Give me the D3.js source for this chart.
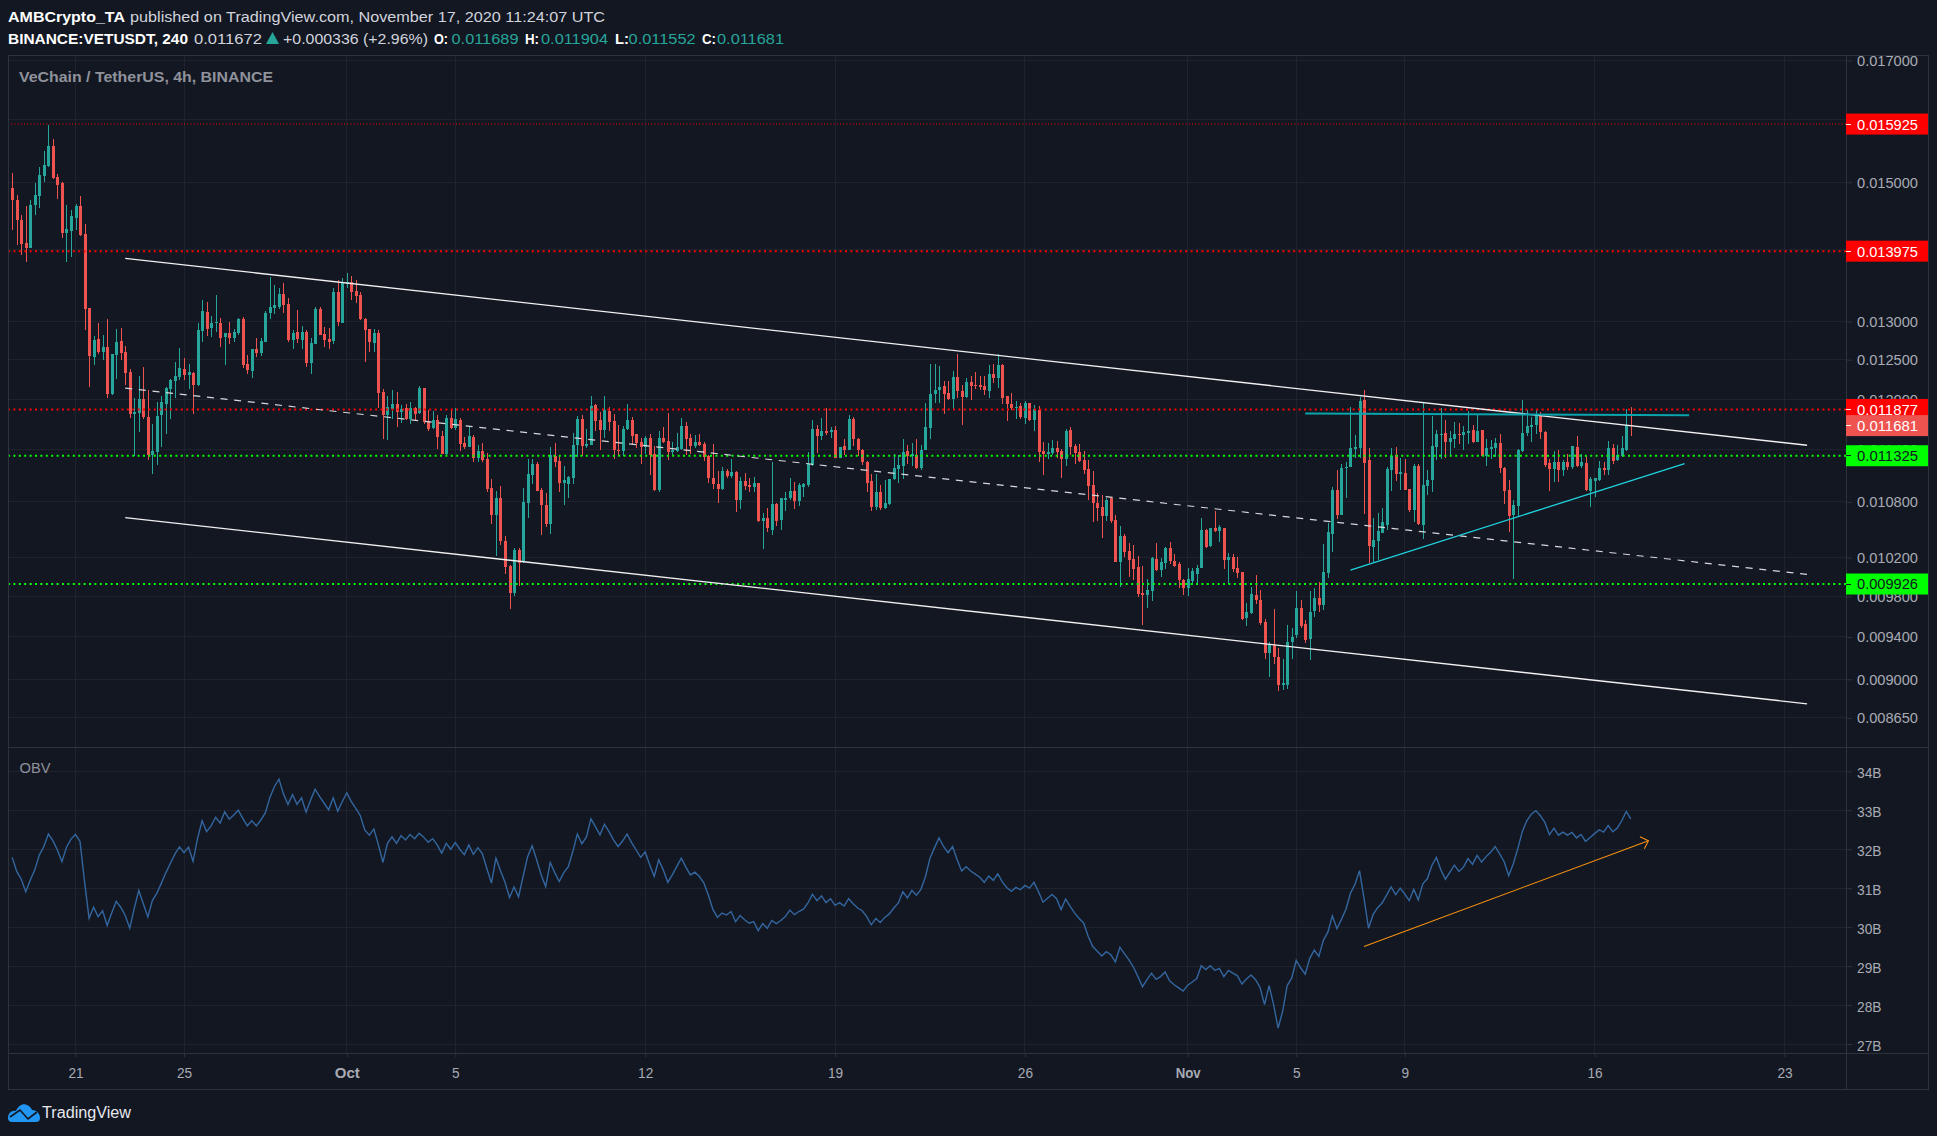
<!DOCTYPE html>
<html>
<head>
<meta charset="utf-8">
<title>VETUSDT</title>
<script src="https://cdnjs.cloudflare.com/ajax/libs/d3/7.8.5/d3.min.js"></script>
<style>
html, body { margin: 0; padding: 0; background: #131722; }
svg { display: block; }
text { font-family: "Liberation Sans", sans-serif; }
</style>
</head>
<body>
<div id="chart"></div>
<script>
// prices below are in millionths of a USDT, one bar every 4 hours from 18 Sep 16:00 UTC
const opens = [
14910,14735,14435,14090,14015,14660,14795,15100,15258,15573,
15084,14990,14240,14270,14465,14645,14225,13180,12534,12767,
12600,12664,12071,12560,12741,12600,12337,11827,11839,12008,
11790,11335,11370,11810,11948,12133,12233,12283,12383,12308,
12333,12183,12871,13125,12910,12974,12987,12793,12845,12780,
12845,13028,12446,12358,12638,12586,12728,13111,13180,13194,
13374,13236,12754,12858,12754,12858,12458,12703,13167,12832,
12767,12741,13402,12987,13513,13541,13416,13360,13028,12897,
12715,12845,12096,11810,11887,11947,11851,11899,11766,11899,
11839,12146,11742,11657,11754,11561,11344,11778,11657,11754,
11477,11428,11549,11300,11381,11290,10951,10658,10849,10375,
10112,9837,10280,10152,10792,11099,11234,10928,10771,10560,
11325,11268,11008,10996,11065,11452,11764,11440,11452,11932,
11752,11632,11860,11740,11392,11381,11644,11752,11584,11488,
11428,11536,11347,10928,11536,11500,11370,11381,11404,11680,
11536,11440,11488,11464,11325,11065,10996,10940,11144,11087,
11132,10826,11030,10985,10962,11008,10585,10618,10498,10782,
10596,10826,10838,10917,10815,10962,10985,11223,11644,11560,
11620,11608,11632,11302,11440,11392,11764,11524,11392,11257,
11030,10747,10905,10736,10782,11053,11166,11211,11381,11325,
11336,11178,11392,11656,12067,12117,12167,12079,12004,12279,
12104,12029,12217,12179,12179,12167,12104,12317,12267,12429,
12042,11944,11896,11920,11776,11956,11752,11872,11381,11347,
11358,11416,11381,11291,11632,11440,11370,11279,11166,10985,
10793,10749,10640,10838,10596,10152,10432,10269,10183,10101,
9834,9813,9855,10183,10070,10142,10302,10163,10132,9968,
9885,9958,10029,10091,10488,10324,10509,10477,10509,10173,
10204,10091,10050,9590,9638,9813,9764,9550,9242,9327,
9213,8948,8948,9356,9420,9686,9530,9384,9657,9784,
9716,10040,10455,10928,10651,11178,11189,11404,11416,11992,
11279,10313,10378,10465,10552,11155,11336,11110,11121,10940,
10713,11211,10552,10973,11042,11428,11572,11596,11488,11524,
11584,11572,11596,11632,11488,11632,11325,11404,11416,11476,
11178,10928,10651,10760,11381,11596,11668,11692,11824,11608,
11245,11166,11257,11155,11257,11200,11428,11211,11245,10917,
11030,11042,11178,11155,11416,11280,11325,11392,11689];
const highs = [
15142,14810,14505,14645,14735,14985,15242,15495,15905,15684,
15131,15005,14660,14585,14675,14795,14375,13180,12806,12974,
12819,13028,12573,12897,12910,12677,12375,12021,12296,12408,
12121,11706,11972,12046,12158,12258,12471,12650,12521,12446,
12346,12987,13291,13264,13069,13360,13042,12845,13000,12897,
13042,13055,12560,12638,12780,12780,13139,13610,13499,13458,
13527,13319,12884,13153,12935,12884,12780,13194,13194,12922,
12910,13458,13568,13596,13665,13624,13568,13402,13042,12897,
12897,12884,12133,12046,12121,12096,11935,11947,11972,11911,
12171,12146,11875,11863,11815,11621,11815,11887,11899,11778,
11549,11682,11573,11453,11477,11359,11053,10917,10973,10430,
10122,10302,10302,10951,11291,11291,11257,10951,10894,11428,
11476,11325,11211,11087,11596,11792,11804,11644,12042,11944,
11848,12042,11908,11824,11692,11680,11944,11788,11584,11536,
11560,11584,11440,11620,11668,11836,11488,11596,11776,11728,
11584,11572,11584,11488,11336,11464,11144,11189,11166,11291,
11144,11076,11121,11065,11076,11008,10680,10738,11257,10792,
10838,10905,11065,11019,11008,11008,11370,11752,11692,11776,
11896,11668,11680,11428,11524,11804,11788,11536,11404,11268,
11110,11110,10985,11042,11053,11347,11336,11524,11452,11476,
11524,11452,11956,12442,12442,12417,12229,12229,12354,12570,
12179,12267,12292,12342,12292,12292,12429,12442,12570,12442,
12042,12079,11980,11956,11980,11956,11932,11920,11488,11476,
11512,11500,11404,11644,11668,11464,11464,11381,11279,11144,
10894,10872,10838,10860,10651,10531,10455,10357,10335,10215,
10111,9978,10204,10357,10193,10313,10367,10236,10152,9978,
10091,10091,10122,10619,10499,10509,10705,10542,10509,10247,
10236,10204,10050,9735,9896,10019,9865,9579,9356,9677,
9299,9194,9516,9491,9855,9764,9569,9855,9885,9947,
10345,10564,10962,11155,11234,11257,11908,11572,12029,12117,
11416,10618,10673,10738,11189,11416,11428,11302,11291,10940,
11234,11234,11968,11155,11800,11632,11896,11752,11620,11728,
11716,11680,11860,11692,11824,11632,11524,11512,11536,11584,
11189,11042,10826,11404,11992,11872,11788,11872,11848,11620,
11291,11381,11392,11280,11347,11440,11560,11347,11325,11076,
11065,11268,11257,11500,11464,11452,11560,11884,11904];
const lows = [
14275,14060,13925,13822,14015,14510,14605,15010,15242,15052,
14750,14165,13818,13887,14285,14195,12884,12158,12433,12573,
12496,12021,12058,12254,12496,12183,11778,11325,11609,11766,
11277,11109,11212,11428,11585,11766,12021,12246,12246,12133,
11827,12171,12728,12806,12793,12858,12664,12433,12703,12728,
12824,12396,12320,12271,12534,12547,12728,13028,13097,13167,
13111,12728,12638,12715,12638,12408,12321,12703,12819,12664,
12638,12703,12935,12974,13458,13291,13250,13014,12471,12600,
12600,11900,11525,11513,11766,11670,11718,11754,11706,11754,
11827,11706,11621,11645,11404,11344,11332,11645,11633,11381,
11404,11428,11247,11247,11258,10916,10560,10215,10335,10031,
9675,9807,9905,10142,10623,10996,10917,10440,10527,10450,
11200,10905,10771,10838,10996,11310,11325,11416,11452,11620,
11392,11536,11620,11291,11325,11325,11632,11464,11416,11234,
11347,11099,10917,10905,11476,11280,11336,11370,11392,11336,
11347,11416,11440,11268,11008,10940,10792,10928,11065,11065,
10691,10727,10928,10905,10905,10574,10291,10476,10440,10534,
10498,10705,10826,10727,10760,10860,10962,11211,11358,11512,
11572,11536,11302,11302,11336,11392,11440,11325,11223,10905,
10705,10716,10716,10727,10771,11042,11008,11053,11234,11211,
11166,11155,11392,11524,11952,11956,11824,11992,11884,12017,
11692,12017,11992,12129,12117,12054,12017,12204,12142,11944,
11740,11872,11764,11764,11704,11740,11620,11257,11098,11291,
11336,11302,11064,11211,11336,11234,11257,11110,10826,10574,
10585,10411,10585,10564,10152,9897,10204,10002,9971,9793,
9515,9686,9755,10060,10002,10081,10132,10101,9885,9813,
9803,9916,9916,10091,10302,10313,10466,10367,10081,9926,
10050,9988,9570,9510,9628,9725,9520,9194,9022,9146,
8893,8902,8911,9194,9394,9491,9346,9184,9598,9647,
9667,9988,10258,10607,10651,10838,11189,11302,11302,10669,
10139,10149,10173,10465,10498,10917,11030,10928,10928,10691,
10574,10552,10400,10872,10905,11280,11291,11302,11325,11416,
11464,11392,11464,11476,11488,11325,11211,11291,11314,11121,
10782,10476,9980,10640,11370,11560,11488,11584,11524,11200,
10917,11019,11019,11087,11155,11166,11200,11178,10917,10747,
10860,11030,11099,11099,11234,11268,11314,11381,11552];
const closes = [
14725,14435,14075,14015,14660,14810,15115,15273,15573,15063,
14960,14240,14300,14495,14645,14210,13167,12547,12754,12600,
12664,12071,12573,12728,12586,12333,11827,11851,12008,11790,
11335,11381,11802,11972,12146,12246,12296,12396,12308,12346,
12183,12884,13139,12897,12974,13000,12780,12845,12780,12858,
13028,12433,12371,12638,12586,12741,13111,13194,13222,13374,
13222,12754,12845,12767,12858,12458,12715,13167,12819,12754,
12728,13402,13000,13541,13541,13402,13347,13028,12884,12728,
12845,12083,11810,11911,11947,11851,11887,11766,11899,11827,
12146,11730,11645,11754,11549,11344,11778,11657,11766,11465,
11428,11561,11300,11381,11277,10939,10658,10849,10375,10102,
9837,10280,10142,10804,11110,11234,10917,10771,10560,11336,
11257,11008,11042,11076,11452,11764,11440,11464,11920,11740,
11632,11872,11728,11392,11381,11644,11752,11560,11476,11428,
11536,11336,10928,11536,11488,11370,11392,11428,11680,11524,
11440,11488,11452,11314,11065,10996,10940,11144,11087,11132,
10826,11030,10973,10962,11008,10585,10627,10509,10782,10585,
10838,10849,10917,10815,10985,10996,11234,11644,11560,11620,
11596,11632,11302,11428,11392,11764,11524,11392,11257,11008,
10747,10905,10736,10792,11053,11178,11223,11370,11325,11347,
11178,11392,11668,12067,12117,12154,12067,12004,12279,12104,
12029,12217,12167,12167,12154,12117,12317,12267,12429,12017,
11944,11896,11908,11788,11956,11752,11884,11370,11347,11370,
11416,11370,11291,11620,11428,11358,11268,11155,10973,10793,
10738,10640,10826,10585,10152,10432,10258,10173,10081,9824,
9813,9865,10193,10070,10152,10302,10163,10111,9968,9885,
9978,10060,10091,10488,10313,10509,10477,10520,10173,10204,
10081,10040,9580,9648,9824,9764,9540,9251,9337,9213,
8948,8966,9356,9403,9686,9511,9375,9648,9784,9716,
10050,10466,10928,10651,11178,11200,11416,11428,11980,11245,
10323,10389,10487,10574,11166,11325,11110,11132,10928,10713,
11211,10563,10985,11042,11440,11584,11584,11488,11536,11584,
11572,11608,11620,11488,11620,11325,11416,11428,11476,11178,
10917,10640,10771,11392,11596,11680,11692,11824,11608,11223,
11166,11257,11155,11257,11200,11440,11211,11257,10928,11053,
11065,11178,11155,11416,11268,11336,11416,11692,11681];
// on balance volume in billions, same bars
const obv = [
31.79,31.43,31.23,30.91,31.21,31.47,31.85,32.07,32.39,32.22,
31.98,31.68,32.05,32.26,32.38,32.20,31.17,30.23,30.51,30.27,
30.42,30.04,30.36,30.66,30.51,30.30,29.97,30.49,30.94,30.60,
30.26,30.68,30.87,31.13,31.40,31.64,31.88,32.06,31.91,32.05,
31.69,32.28,32.73,32.45,32.60,32.82,32.67,32.96,32.77,32.88,
33.00,32.79,32.60,32.73,32.60,32.75,32.94,33.33,33.61,33.80,
33.42,33.15,33.40,33.15,33.32,32.95,33.26,33.54,33.35,33.18,
33.01,33.32,32.98,33.22,33.45,33.22,33.05,32.86,32.49,32.36,
32.52,32.11,31.66,32.15,32.32,32.15,32.35,32.24,32.38,32.27,
32.41,32.31,32.18,32.27,32.11,31.90,32.15,32.00,32.17,32.00,
31.86,32.11,31.87,32.04,31.88,31.50,31.13,31.77,31.45,31.15,
30.76,31.03,30.78,31.30,31.81,32.09,31.73,31.34,31.04,31.66,
31.40,31.17,31.40,31.55,31.94,32.39,32.14,32.31,32.78,32.58,
32.37,32.64,32.45,32.24,32.07,32.21,32.39,32.17,31.98,31.79,
31.93,31.60,31.30,31.73,31.47,31.15,31.34,31.56,31.77,31.54,
31.34,31.41,31.30,31.13,30.81,30.45,30.25,30.36,30.31,30.40,
30.14,30.30,30.19,30.10,30.14,29.91,30.09,29.97,30.17,30.09,
30.17,30.27,30.44,30.32,30.40,30.46,30.62,30.84,30.68,30.80,
30.63,30.73,30.56,30.63,30.54,30.73,30.60,30.49,30.42,30.27,
30.06,30.22,30.12,30.25,30.34,30.49,30.62,30.91,30.75,30.94,
30.82,30.97,31.30,31.77,32.04,32.29,32.07,31.91,32.07,31.73,
31.44,31.55,31.44,31.36,31.28,31.15,31.31,31.20,31.37,31.16,
31.01,30.92,31.02,30.96,31.07,31.00,31.15,30.91,30.64,30.74,
30.84,30.73,30.45,30.72,30.53,30.36,30.22,30.10,29.76,29.50,
29.38,29.26,29.37,29.29,29.11,29.48,29.32,29.16,28.97,28.73,
28.47,28.65,28.82,28.66,28.73,28.85,28.62,28.52,28.44,28.36,
28.51,28.59,28.68,29.01,28.91,29.01,28.89,28.94,28.73,28.89,
28.82,28.75,28.54,28.67,28.77,28.65,28.45,28.01,28.50,28.01,
27.41,27.84,28.50,28.69,29.15,28.95,28.79,29.20,29.41,29.25,
29.66,29.87,30.29,29.96,30.20,30.46,30.87,31.10,31.45,30.74,
29.97,30.32,30.50,30.62,30.82,31.03,30.83,31.00,30.85,30.68,
30.97,30.70,31.11,31.24,31.58,31.79,31.47,31.23,31.41,31.59,
31.43,31.54,31.76,31.61,31.84,31.67,31.81,31.92,32.07,31.88,
31.68,31.32,31.62,32.01,32.45,32.73,32.90,32.99,32.86,32.69,
32.37,32.54,32.36,32.44,32.36,32.43,32.29,32.38,32.20,32.30,
32.40,32.50,32.44,32.61,32.45,32.54,32.73,32.97,32.78];

const priceTicks = [17000, 16000, 15000, 14000, 13000, 12500, 12000, 11400, 10800, 10200, 9800, 9400, 9000, 8650];
// these two sit fully under a level tag in the original, so only their grid line shows
const hiddenPriceLabels = [16000, 14000];
const obvTicks = [27, 28, 29, 30, 31, 32, 33, 34];
const timeTicks = ["2020-09-21", "2020-09-25", "2020-10-01", "2020-10-05", "2020-10-12", "2020-10-19", "2020-10-26", "2020-11-01", "2020-11-05", "2020-11-09", "2020-11-16", "2020-11-23"];
const timeLabels = ["21", "25", "Oct", "5", "12", "19", "26", "Nov", "5", "9", "16", "23"];

const redLevels = [15925, 13975, 11877];
const greenLevels = [11325, 9926];
const lastClose = 11681;

// drawn lines as [bar, price]
const channelTop = [[25, 13872], [397, 11447]];
const channelMid = [[25, 12140], [397, 10025]];
const channelLow = [[25, 10627], [397, 8776]];
const flatCyan = [[286, 11826], [370.9, 11805]];
const riseCyan = [[296, 10069], [369.9, 11234]];
const obvArrow = [[299, 29.50], [361.9, 32.22]];

const width = 1937, height = 1136;
const frame = {left: 8, right: 1928, top: 55, bottom: 1089, axis: 1846, paneSplit: 747, timeAxis: 1053};
const bg = "#131722", gridColor = "#1f232e", borderColor = "#2e323d", axisText = "#a8abb4";
const upColor = "#26a69a", downColor = "#ef5350";

const firstBar = Date.UTC(2020, 8, 18, 16);
const barTime = i => new Date(firstBar + i * 4 * 3600 * 1000);

const x = d3.scaleUtc()
    .domain([new Date("2020-09-21"), new Date("2020-11-23")])
    .range([75.5, 1784.5]);
const y = d3.scaleLog()
    .domain([15000, 9000])
    .range([182.3, 679.3]);
const yObv = d3.scaleLinear()
    .domain([34, 27])
    .range([771.3, 1044]);

const svg = d3.select("#chart").append("svg")
    .attr("width", width)
    .attr("height", height);
svg.append("rect").attr("width", width).attr("height", height).attr("fill", bg);

// text squeezed to the measured width, the original font is narrower than anything installed
function label(str, px, py, w, opts) {
    const o = opts || {};
    return svg.append("text")
        .attr("x", px)
        .attr("y", py)
        .attr("dy", "0.35em")
        .attr("textLength", w)
        .attr("lengthAdjust", "spacingAndGlyphs")
        .attr("font-size", o.size || 15.5)
        .attr("font-weight", o.bold ? "bold" : "normal")
        .attr("fill", o.fill || "#d1d4dc")
        .text(str);
}

function renderGrid() {
    const grid = svg.append("g");
    grid.selectAll(".h").data(priceTicks).enter().append("line")
        .attr("x1", frame.left).attr("x2", frame.axis)
        .attr("y1", d => y(d)).attr("y2", d => y(d));
    grid.selectAll(".o").data(obvTicks).enter().append("line")
        .attr("x1", frame.left).attr("x2", frame.axis)
        .attr("y1", d => yObv(d)).attr("y2", d => yObv(d));
    grid.selectAll(".v").data(timeTicks).enter().append("line")
        .attr("x1", d => x(new Date(d))).attr("x2", d => x(new Date(d)))
        .attr("y1", frame.top).attr("y2", frame.timeAxis);
    grid.selectAll("line")
        .attr("stroke", gridColor)
        .attr("stroke-width", 1)
        .attr("shape-rendering", "crispEdges");
}

function renderCandles() {
    const bars = closes.map((c, i) => i);
    const g = svg.append("g").attr("shape-rendering", "crispEdges");
    const colour = i => closes[i] >= opens[i] ? upColor : downColor;
    const cx = i => Math.round(x(barTime(i)));

    g.selectAll(".wick").data(bars).enter().append("rect")
        .attr("x", i => cx(i))
        .attr("width", 1)
        .attr("y", i => y(highs[i]))
        .attr("height", i => y(lows[i]) - y(highs[i]))
        .attr("fill", colour);

    g.selectAll(".body").data(bars).enter().append("rect")
        .attr("x", i => cx(i) - 1)
        .attr("width", 3)
        .attr("y", i => y(Math.max(opens[i], closes[i])))
        .attr("height", i => Math.max(1, Math.abs(y(opens[i]) - y(closes[i]))))
        .attr("fill", colour);
}

function renderObv() {
    const line = d3.line()
        .x((d, i) => x(barTime(i)))
        .y(d => yObv(d));
    svg.append("path")
        .datum(obv)
        .attr("d", line)
        .attr("fill", "none")
        .attr("stroke", "#33669f")
        .attr("stroke-width", 1.4);

    const tip = obvArrow[1];
    const tx = x(barTime(tip[0])), ty = yObv(tip[1]);
    svg.append("path")
        .attr("d", d3.line()(obvArrow.map(d => [x(barTime(d[0])), yObv(d[1])])))
        .attr("fill", "none")
        .attr("stroke", "#f7930f")
        .attr("stroke-width", 1.1);
    svg.append("path")
        .attr("d", `M${tx - 8.5},${ty - 3.8}L${tx},${ty}L${tx - 4},${ty + 8}`)
        .attr("fill", "none")
        .attr("stroke", "#f7930f")
        .attr("stroke-width", 1.1);
}

function renderLevels() {
    const levels = svg.append("g");
    redLevels.concat(greenLevels).forEach(p => {
        const thin = p === 15925;
        levels.append("line")
            .attr("x1", frame.left).attr("x2", frame.axis)
            .attr("y1", y(p)).attr("y2", y(p))
            .attr("stroke", redLevels.includes(p) ? "#ff0000" : "#00ff00")
            .attr("stroke-width", thin ? 1 : 2)
            .attr("stroke-dasharray", thin ? "1 2.2" : "2 3.4");
    });
}

function renderTrendlines() {
    const line = d3.line()
        .x(d => x(barTime(d[0])))
        .y(d => y(d[1]));
    const draw = (pts, colour, w, dash) => svg.append("path")
        .attr("d", line(pts))
        .attr("fill", "none")
        .attr("stroke", colour)
        .attr("stroke-width", w)
        .attr("stroke-dasharray", dash || null);
    draw(channelMid, "#d7d8dc", 1.2, "7 6.7");
    draw(channelTop, "#f0f0f0", 1.4);
    draw(channelLow, "#f0f0f0", 1.4);
    draw(flatCyan, "#0aa4ac", 2);
    draw(riseCyan, "#1fd3de", 1.3);
}

function renderAxes() {
    const priceAxis = d3.axisRight(y)
        .tickValues(priceTicks)
        .tickSize(6)
        .tickPadding(5)
        .tickFormat(d => hiddenPriceLabels.includes(d) ? "" : (d / 1e6).toFixed(6));
    const obvAxis = d3.axisRight(yObv)
        .tickValues(obvTicks)
        .tickSize(6)
        .tickPadding(5)
        .tickFormat(d => d + "B");
    const timeAxis = d3.axisBottom(x)
        .tickValues(timeTicks.map(d => new Date(d)))
        .tickSize(4)
        .tickPadding(10)
        .tickFormat((d, i) => timeLabels[i]);

    const pa = svg.append("g").attr("transform", `translate(${frame.axis},0)`).call(priceAxis);
    const oa = svg.append("g").attr("transform", `translate(${frame.axis},0)`).call(obvAxis);
    const ta = svg.append("g").attr("transform", `translate(0,${frame.timeAxis})`).call(timeAxis);

    [pa, oa, ta].forEach(a => {
        a.select(".domain").remove();
        a.selectAll(".tick line").attr("stroke", borderColor);
        a.selectAll("text")
            .attr("fill", axisText)
            .attr("font-family", '"Liberation Sans", sans-serif')
            .attr("font-size", 15.5)
            .attr("lengthAdjust", "spacingAndGlyphs");
    });
    pa.selectAll("text")
        .filter(d => !hiddenPriceLabels.includes(d))
        .attr("textLength", 61);
    oa.selectAll("text").attr("textLength", 24.5).attr("y", 1.5);
    ta.selectAll("text")
        .attr("font-weight", (d, i) => /[a-z]/.test(timeLabels[i]) ? "bold" : "normal")
        .attr("textLength", (d, i) => /[a-z]/.test(timeLabels[i]) ? 25 : timeLabels[i].length * 7.6);
}

function renderPriceLabels() {
    const tags = [
        {p: 15925, bg: "#ff0000", fg: "#ffffff"},
        {p: 13975, bg: "#ff0000", fg: "#ffffff"},
        {p: 11325, bg: "#00ff00", fg: "#131722"},
        {p: 9926, bg: "#00ff00", fg: "#131722"},
        {p: 11877, bg: "#ff0000", fg: "#ffffff"},
        {p: lastClose, bg: "#ef5350", fg: "#ffffff"}
    ];
    tags.forEach(t => {
        const py = y(t.p);
        svg.append("rect")
            .attr("x", frame.axis)
            .attr("y", py - 10.5)
            .attr("width", frame.right - frame.axis)
            .attr("height", 21)
            .attr("fill", t.bg);
        svg.append("line")
            .attr("x1", frame.axis).attr("x2", frame.axis + 5)
            .attr("y1", py).attr("y2", py)
            .attr("stroke", t.fg === "#ffffff" ? "#ffffff" : "#131722")
            .attr("shape-rendering", "crispEdges");
        label((t.p / 1e6).toFixed(6), frame.axis + 11, py, 61, {fill: t.fg});
    });
}

function renderFrame() {
    const f = svg.append("g")
        .attr("stroke", borderColor)
        .attr("shape-rendering", "crispEdges");
    f.append("rect")
        .attr("x", frame.left).attr("y", frame.top)
        .attr("width", frame.right - frame.left)
        .attr("height", frame.bottom - frame.top)
        .attr("fill", "none");
    [[frame.axis, frame.top, frame.axis, frame.bottom],
     [frame.left, frame.paneSplit, frame.right, frame.paneSplit],
     [frame.left, frame.timeAxis, frame.right, frame.timeAxis]].forEach(l => {
        f.append("line").attr("x1", l[0]).attr("y1", l[1]).attr("x2", l[2]).attr("y2", l[3]);
    });
}

function renderHeader() {
    const teal = "#26a69a";
    label("AMBCrypto_TA", 8, 17, 117, {bold: true, fill: "#ffffff"});
    label("published on TradingView.com, November 17, 2020 11:24:07 UTC", 130, 17, 475);
    label("BINANCE:VETUSDT, 240", 8, 38.5, 180, {bold: true, fill: "#ffffff"});
    label("0.011672", 194, 38.5, 68);
    svg.append("path").attr("d", "M266,44L272.5,32L279,44Z").attr("fill", teal);
    label("+0.000336 (+2.96%)", 283, 38.5, 145);
    [["O:", 434, "0.011689", 451.5], ["H:", 525, "0.011904", 541], ["L:", 615, "0.011552", 628.6], ["C:", 702, "0.011681", 717]].forEach(d => {
        label(d[0], d[1], 38.5, 14, {bold: true, fill: "#ffffff"});
        label(d[2], d[3], 38.5, 67, {fill: teal});
    });
    label("VeChain / TetherUS, 4h, BINANCE", 19, 77, 254, {bold: true, fill: "#8f929b"});
    label("OBV", 19.5, 768, 31, {fill: "#8f929b"});

    svg.append("path")
        .attr("d", "M8,1118C8,1113 12,1110 16,1111C18,1106 23,1103 27,1105C30,1106 31,1108 32,1110C37,1110 40,1114 40,1118C40,1121 38,1122 36,1122L12,1122C9,1122 8,1120 8,1118Z")
        .attr("fill", "#2196f3");
    svg.append("path")
        .attr("d", "M10,1117L20,1110L28,1119L37,1112")
        .attr("fill", "none")
        .attr("stroke", bg)
        .attr("stroke-width", 1.6);
    label("TradingView", 42, 1112.5, 89, {fill: "#e6e8ee", size: 16});
}

renderGrid();
renderCandles();
renderObv();
renderLevels();
renderTrendlines();
renderFrame();
renderAxes();
renderPriceLabels();
renderHeader();
</script>
</body>
</html>
